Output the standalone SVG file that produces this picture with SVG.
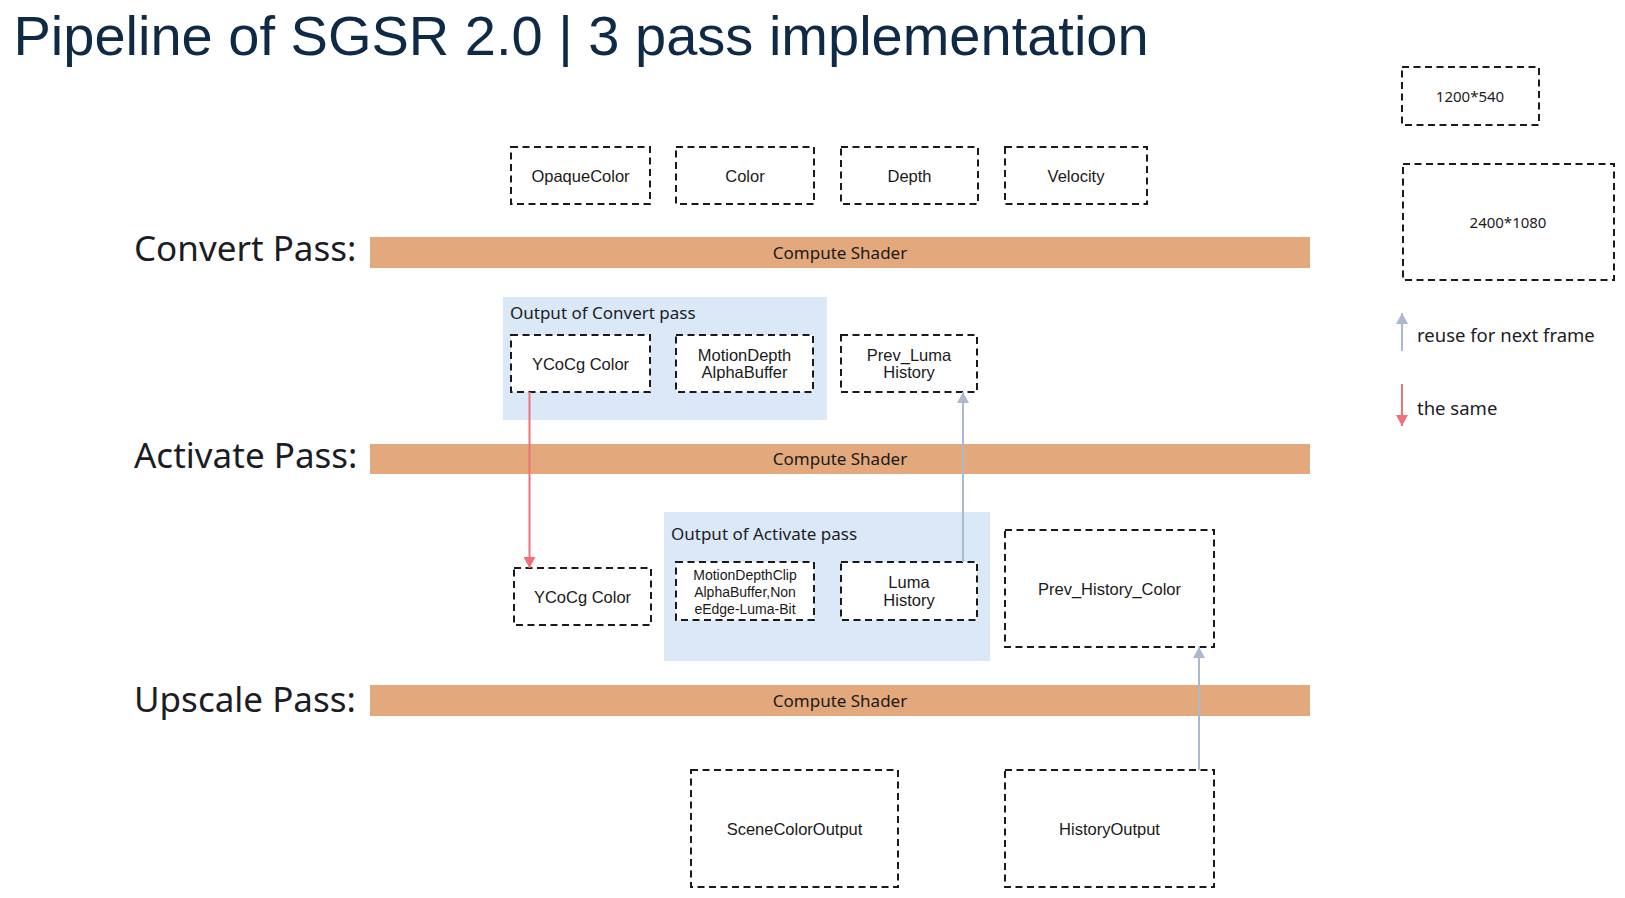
<svg xmlns="http://www.w3.org/2000/svg" width="1625" height="898" viewBox="0 0 1625 898">
<style>
.box{fill:#ffffff;stroke:#1a1a1a;stroke-width:2;stroke-dasharray:7 4.5}
.lbl{font-family:"Liberation Sans",Arial,sans-serif;font-size:16.5px;fill:#1a1a1a;text-anchor:middle}
.small{font-size:14px}
.bar{fill:#e4a87d}
.bartxt{font-family:"Noto Sans",sans-serif;font-size:17px;fill:#1a1a1a;text-anchor:middle}
.pass{font-family:"Noto Sans",sans-serif;font-size:35px;fill:#1c1c24}
.grp{fill:#dae8f8}
.grptxt{font-family:"Noto Sans",sans-serif;font-size:17px;fill:#1c1c24}
.leg{font-family:"Noto Sans",sans-serif;font-size:18.5px;fill:#1c1c24}
.legnum{font-family:"Noto Sans",sans-serif;font-size:15px;fill:#1c1c24;text-anchor:middle}
.red{stroke:#f0707a;stroke-width:2;fill:none}
.gray{stroke:#aab9d0;stroke-width:2;fill:none}
</style>
<defs>
<marker id="ahRed" markerWidth="12" markerHeight="12" refX="11" refY="6" orient="auto" markerUnits="userSpaceOnUse"><path d="M0,0 L11,6 L0,12 z" fill="#f0707a"/></marker>
<marker id="ahGray" markerWidth="12" markerHeight="12" refX="11" refY="6" orient="auto" markerUnits="userSpaceOnUse"><path d="M0,0 L11,6 L0,12 z" fill="#aab9d0"/></marker>
</defs>
<rect width="1625" height="898" fill="#ffffff"/>
<text x="13.5" y="55" font-family="'Liberation Sans',Arial,sans-serif" font-size="56" fill="#0f2a46">Pipeline of SGSR 2.0 | 3 pass implementation</text>

<g id="pass-labels">
<text class="pass" x="134" y="261">Convert Pass:</text>
<text class="pass" x="134" y="468">Activate Pass:</text>
<text class="pass" x="134" y="712">Upscale Pass:</text>
</g>

<g id="convert-shader"><rect class="bar" x="370" y="237" width="940" height="31"/><text class="bartxt" x="840" y="258.5">Compute Shader</text></g>
<g id="activate-shader"><rect class="bar" x="370" y="444" width="940" height="30"/><text class="bartxt" x="840" y="465">Compute Shader</text></g>
<g id="upscale-shader"><rect class="bar" x="370" y="685" width="940" height="31"/><text class="bartxt" x="840" y="706.5">Compute Shader</text></g>

<g id="output-convert"><rect class="grp" x="503" y="297" width="324" height="123"/><text class="grptxt" x="510" y="319">Output of Convert pass</text></g>
<g id="output-activate"><rect class="grp" x="664" y="512" width="326" height="149"/><text class="grptxt" x="671" y="540">Output of Activate pass</text></g>

<g id="opaque-color"><rect class="box" x="511" y="147" width="139" height="57"/><text class="lbl" x="580.5" y="181.5">OpaqueColor</text></g>
<g id="color"><rect class="box" x="676" y="147" width="138" height="57"/><text class="lbl" x="745" y="181.5">Color</text></g>
<g id="depth"><rect class="box" x="841" y="147" width="137" height="57"/><text class="lbl" x="909.5" y="181.5">Depth</text></g>
<g id="velocity"><rect class="box" x="1005" y="147" width="142" height="57"/><text class="lbl" x="1076" y="181.5">Velocity</text></g>

<g id="ycocg-color-1"><rect class="box" x="511" y="335" width="139" height="57"/><text class="lbl" x="580.5" y="369.5">YCoCg Color</text></g>
<g id="motion-depth-alpha"><rect class="box" x="676" y="335" width="137" height="57"/><text class="lbl" x="744.5" y="360.5">MotionDepth</text><text class="lbl" x="744.5" y="378">AlphaBuffer</text></g>
<g id="prev-luma-history"><rect class="box" x="841" y="335" width="136" height="57"/><text class="lbl" x="909" y="360.5">Prev_Luma</text><text class="lbl" x="909" y="378">History</text></g>

<g id="ycocg-color-2"><rect class="box" x="514" y="568" width="137" height="57"/><text class="lbl" x="582.5" y="603">YCoCg Color</text></g>
<g id="motion-depth-clip"><rect class="box" x="676" y="562" width="138" height="58"/><text class="lbl small" x="745" y="580">MotionDepthClip</text><text class="lbl small" x="745" y="597">AlphaBuffer,Non</text><text class="lbl small" x="745" y="613.5">eEdge-Luma-Bit</text></g>
<g id="luma-history"><rect class="box" x="841" y="562" width="136" height="58"/><text class="lbl" x="909" y="588">Luma</text><text class="lbl" x="909" y="605.5">History</text></g>
<g id="prev-history-color"><rect class="box" x="1005" y="530" width="209" height="117"/><text class="lbl" x="1109.5" y="594.5">Prev_History_Color</text></g>

<g id="scene-color-output"><rect class="box" x="691" y="770" width="207" height="117"/><text class="lbl" x="794.5" y="834.5">SceneColorOutput</text></g>
<g id="history-output"><rect class="box" x="1005" y="770" width="209" height="117"/><text class="lbl" x="1109.5" y="834.5">HistoryOutput</text></g>

<g id="legend-1200"><rect class="box" x="1402" y="67" width="137" height="58"/><text class="legnum" x="1470" y="102">1200*540</text></g>
<g id="legend-2400"><rect class="box" x="1403" y="164" width="211" height="116"/><text class="legnum" x="1508" y="228">2400*1080</text></g>
<g id="legend-reuse"><line class="gray" x1="1402" y1="351" x2="1402" y2="313" marker-end="url(#ahGray)"/><text class="leg" x="1417" y="342">reuse for next frame</text></g>
<g id="legend-same"><line class="red" x1="1402" y1="384" x2="1402" y2="426" marker-end="url(#ahRed)"/><text class="leg" x="1417" y="415">the same</text></g>

<g id="connectors">
<line class="red" x1="529.5" y1="392" x2="529.5" y2="568" marker-end="url(#ahRed)"/>
<line class="gray" x1="963" y1="562" x2="963" y2="392" marker-end="url(#ahGray)"/>
<line class="gray" x1="1199" y1="770" x2="1199" y2="647" marker-end="url(#ahGray)"/>
</g>
</svg>
